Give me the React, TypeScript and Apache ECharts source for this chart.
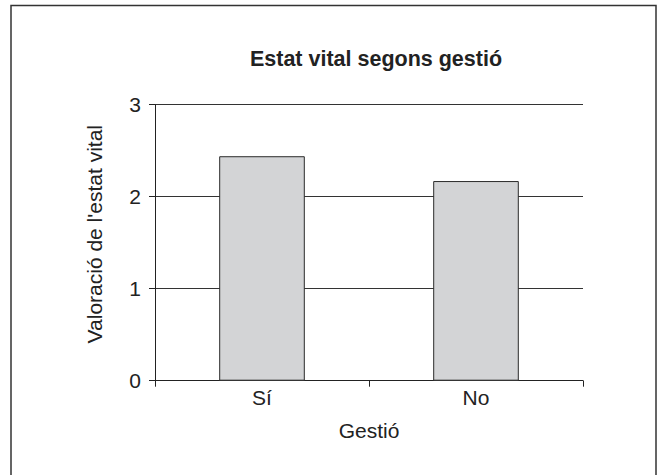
import React, { useEffect, useRef } from "react";
import * as echarts from "echarts";

const categories = ["Sí", "No"];
const values = [2.44, 2.17];
const yTicks = { min: 0, max: 3, interval: 1 };
const titleText = "Estat vital segons gestió";
const xAxisName = "Gestió";
const yAxisName = "Valoració de l'estat vital";

const FONT = "'Liberation Sans', Arial, sans-serif";

export default function App() {
  const ref = useRef<HTMLDivElement>(null);
  useEffect(() => {
    if (!ref.current) return;
    const chart = echarts.init(ref.current, undefined, { renderer: "svg" });
    chart.setOption({
      animation: false,
      backgroundColor: "#ffffff",
      textStyle: { fontFamily: FONT },
      title: {
        text: titleText,
        left: 371,
        top: 43,
        textAlign: "center",
        textStyle: { fontFamily: FONT, fontSize: 21.5, fontWeight: "bold", color: "#222" },
      },
      graphic: [
        {
          type: "rect",
          shape: { x: 11, y: 5.5, width: 645, height: 480 },
          style: { fill: "none", stroke: "#333", lineWidth: 1.5 },
          silent: true,
          z: -1,
        },
      ],
      grid: { left: 155, right: 78, top: 104.7, bottom: 94.3, containLabel: false },
      xAxis: {
        type: "category",
        data: categories,
        name: xAxisName,
        nameLocation: "middle",
        nameGap: 39,
        nameTextStyle: { fontFamily: FONT, fontSize: 21, color: "#222" },
        axisLine: { show: true, lineStyle: { color: "#222", width: 1 } },
        axisTick: { show: true, inside: false, length: 6, alignWithLabel: false, lineStyle: { color: "#222" } },
        axisLabel: { fontFamily: FONT, fontSize: 21, color: "#222", margin: 6 },
        splitLine: { show: false },
      },
      yAxis: {
        type: "value",
        min: yTicks.min,
        max: yTicks.max,
        interval: yTicks.interval,
        name: yAxisName,
        nameLocation: "middle",
        nameGap: 50,
        nameRotate: 90,
        nameTextStyle: { fontFamily: FONT, fontSize: 21, color: "#222", padding: [0, 0, 0, 17] },
        axisLine: { show: true, lineStyle: { color: "#222", width: 1 } },
        axisTick: { show: true, inside: false, length: 6, lineStyle: { color: "#222" } },
        axisLabel: { fontFamily: FONT, fontSize: 21, color: "#222", margin: 14 },
        splitLine: { show: true, lineStyle: { color: "#333", width: 1 } },
      },
      series: [
        {
          type: "bar",
          data: values,
          barWidth: "40%",
          itemStyle: { color: "#d3d4d6", borderColor: "#2a2a2a", borderWidth: 1 },
        },
      ],
    });
    return () => chart.dispose();
  }, []);
  return (
    <div
      ref={ref}
      style={{ position: "fixed", left: 0, top: 0, width: 661, height: 475, background: "#fff" }}
    />
  );
}
